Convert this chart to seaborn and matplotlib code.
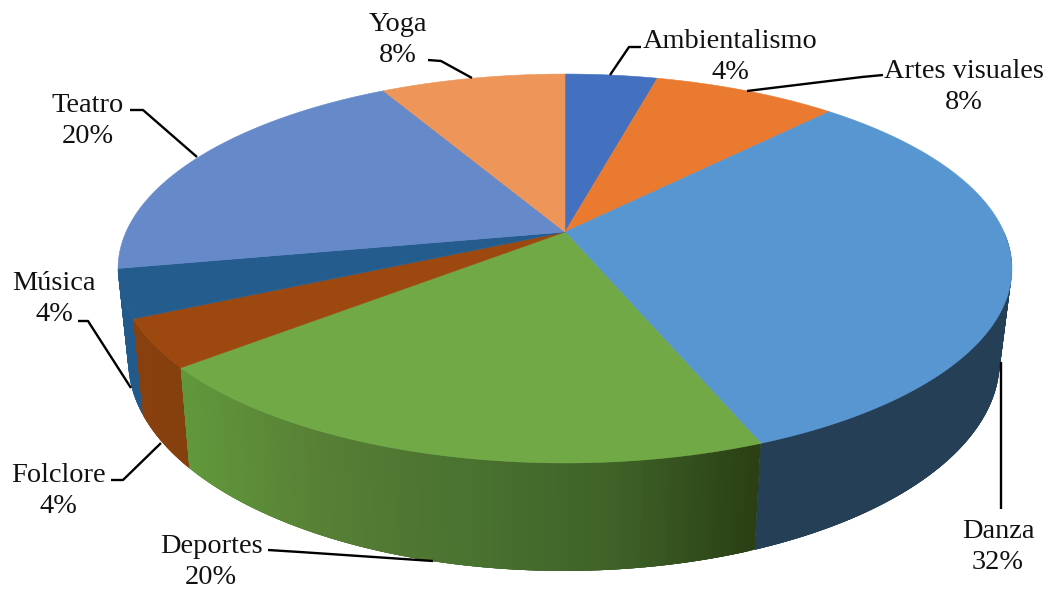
import numpy as np
import matplotlib
matplotlib.use('Agg')
import matplotlib.pyplot as plt
import seaborn as sns

# Data
categories = ['Ambientalismo', 'Artes visuales', 'Danza', 'Deportes',
              'Folclore', 'Música', 'Teatro', 'Yoga']
values = [4, 8, 32, 20, 4, 4, 20, 8]
pct_labels = ['4%', '8%', '32%', '20%', '4%', '4%', '20%', '8%']

# Colours
top_colors = ['#4371bf', '#ea7a30', '#5896d1', '#70a946',
              '#9c480e', '#255c8e', '#6589c9', '#ee9559']
side_colors = [['#2c4a7f', '#2c4a7f'], ['#9c521f', '#9c521f'],
               ['#243f56', '#243f56'], ['#62993c', '#577f35', '#4a7230', '#3f6228', '#2a3f14'],
               ['#8a400e', '#84400d'], ['#235a8c', '#235a8c'],
               ['#455d85', '#455d85'], ['#9c623a', '#9c623a']]

# Layout
label_pos = [(730, 57), (964, 87), (998, 547), (211, 562),
             (58, 491), (54, 299), (88, 121), (398, 40)]
leaders = [[(641, 47), (629, 47), (610, 75)],
           [(883, 75), (862, 77), (747, 91)],
           [(1001, 362), (1001, 509)],
           [(268, 550), (300, 552), (433, 561)],
           [(111, 480), (123, 480), (161, 443)],
           [(78, 321), (88, 321), (131, 388)],
           [(130, 110), (143, 110), (197, 157)],
           [(428, 60), (441, 61), (472, 78)]]
wall_order = [2, 5, 4, 3]   # only these walls face the viewer


def project(theta, plane='top'):
    # circle seen in perspective, theta clockwise from 12 o'clock
    x, y = np.sin(theta), np.cos(theta)
    w = 1 + 0.1877 * y
    if plane == 'top':
        return 565 + 439 * x / w, 232 - 187.6 * y / w
    return 564 + 428 * x / w, 321.5 - 202.6 * y / w


sns.set_theme(style='white')
plt.rcParams['font.family'] = ['Liberation Serif', 'DejaVu Serif']

fig = plt.figure(figsize=(10.48, 5.90), dpi=100)
ax = fig.add_axes([0, 0, 1, 1])
ax.set_xlim(0, 1048)
ax.set_ylim(590, 0)
ax.axis('off')

edges = 2 * np.pi * np.cumsum([0] + values) / sum(values)

# Outer walls as overlapping strips, the top faces cover the hidden part
for i in wall_order:
    th = np.linspace(edges[i], edges[i + 1], 180)
    th = th[np.cos(th) < 0]
    xt, yt = project(th)
    xb, yb = project(th, 'bottom')
    cmap = sns.blend_palette(side_colors[i], as_cmap=True)
    for k in range(len(th) - 1):
        j = min(k + 4, len(th) - 1)
        t = (xt[k] + xb[k] - 2 * xt.min()) / (2 * (xt.max() - xt.min()))
        ax.fill([xt[k], xt[j], xb[j], xb[k]], [yt[k], yt[j], yb[j], yb[k]],
                color=cmap(t), lw=0, zorder=2)

# Top faces
for i, c in enumerate(top_colors):
    th = np.linspace(edges[i], edges[i + 1], 120)
    xt, yt = project(th)
    ax.fill(np.r_[565, xt], np.r_[232, yt], color=c, lw=0.4, zorder=3)

# Labels and leader lines
for name, pct, (x, y), pts in zip(categories, pct_labels, label_pos, leaders):
    ax.text(x, y, name + '\n' + pct, ha='center', va='center', fontsize=20.4,
            color='#111111', linespacing=1.33, zorder=5)
    ax.plot(*zip(*pts), color='black', lw=1.7, zorder=4, solid_capstyle='butt')

fig.savefig('out.png', dpi=100)
